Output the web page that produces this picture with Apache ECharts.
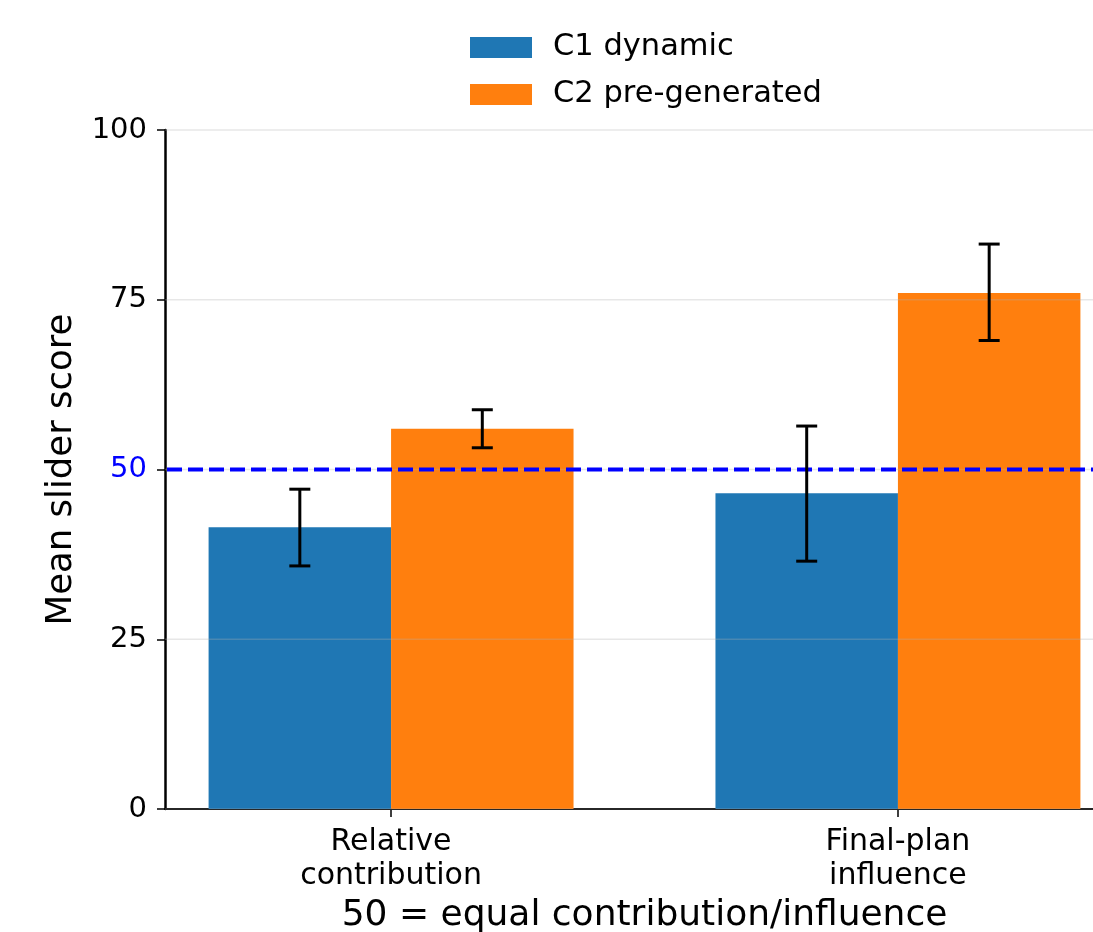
<!DOCTYPE html>
<html>
<head>
<meta charset="utf-8">
<script src="https://cdn.jsdelivr.net/npm/echarts@6/dist/echarts.min.js"></script>
<style>
html,body{margin:0;padding:0;background:#fff;}
#chart{width:1093px;height:932px;}
</style>
</head>
<body>
<div id="chart"></div>
<script>
// ---- data ----
const categories = ['Relative\ncontribution', 'Final-plan\ninfluence'];
const seriesNames = ['C1 dynamic', 'C2 pre-generated'];
const c1Means = [41.5, 46.5];
const c1Lower = [35.8, 36.5];
const c1Upper = [47.1, 56.4];
const c2Means = [56.0, 76.0];
const c2Lower = [53.2, 69.0];
const c2Upper = [58.8, 83.2];
const yTicks = [0, 25, 50, 75, 100];
const referenceValue = 50;
const xTitle = '50 = equal contribution/influence';
const yTitle = 'Mean slider score';

// ---- layout / style ----
const FONT = 'DejaVu Sans';
const BAR_W = 0.36;
const X_MIN = -0.446, X_MAX = 1.446;
const COLORS = ['#1f77b4', '#ff7f0e'];

const chart = echarts.init(document.getElementById('chart'), null, {renderer: 'canvas'});

function barSeries(name, means, color, offset) {
  return {
    name: name,
    type: 'custom',
    z: 2,
    itemStyle: {color: color},
    data: means.map((v, i) => [i, v]),
    encode: {x: 0, y: 1},
    renderItem: function (params, api) {
      const x = api.value(0) + offset;
      const v = api.value(1);
      const p1 = api.coord([x - BAR_W / 2, v]);
      const p2 = api.coord([x + BAR_W / 2, 0]);
      return {
        type: 'rect',
        shape: {x: p1[0], y: p1[1], width: p2[0] - p1[0], height: p2[1] - p1[1]},
        style: {fill: color}
      };
    }
  };
}

function errSeries(lower, upper, offset) {
  return {
    type: 'custom',
    z: 6,
    silent: true,
    data: lower.map((lo, i) => [i, lo, upper[i]]),
    encode: {x: 0, y: [1, 2]},
    renderItem: function (params, api) {
      const x = api.value(0) + offset;
      const pLo = api.coord([x, api.value(1)]);
      const pHi = api.coord([x, api.value(2)]);
      const cap = 10.5;
      const st = {stroke: '#000', lineWidth: 3};
      return {
        type: 'group',
        children: [
          {type: 'line', shape: {x1: pLo[0], y1: pLo[1], x2: pHi[0], y2: pHi[1]}, style: st},
          {type: 'line', shape: {x1: pLo[0] - cap, y1: pLo[1], x2: pLo[0] + cap, y2: pLo[1]}, style: st},
          {type: 'line', shape: {x1: pHi[0] - cap, y1: pHi[1], x2: pHi[0] + cap, y2: pHi[1]}, style: st}
        ]
      };
    }
  };
}

const option = {
  animation: false,
  backgroundColor: '#fff',
  textStyle: {fontFamily: FONT},
  legend: {
    orient: 'vertical',
    left: 465,
    top: 27,
    itemWidth: 62,
    itemHeight: 21,
    itemGap: 16,
    selectedMode: false,
    data: seriesNames.map(n => ({name: n, icon: 'rect'})),
    textStyle: {fontFamily: FONT, fontSize: 30.5, color: '#000', lineHeight: 29, padding: [0, 0, 0, 16]}
  },
  grid: {left: 165, top: 130, width: 959, height: 679, containLabel: false, outerBoundsMode: 'none'},
  xAxis: {
    type: 'value',
    min: X_MIN,
    max: X_MAX,
    name: xTitle,
    nameLocation: 'middle',
    nameGap: 86,
    nameTextStyle: {fontFamily: FONT, fontSize: 36, color: '#000'},
    axisLine: {show: true, onZero: false, lineStyle: {color: '#000', width: 2}},
    axisTick: {show: true, customValues: [0, 1], length: 8, lineStyle: {color: '#000', width: 1.5}},
    axisLabel: {
      show: true,
      customValues: [0, 1],
      formatter: v => categories[Math.round(v)],
      fontFamily: FONT, fontSize: 30, lineHeight: 34, color: '#000', margin: 16
    },
    splitLine: {show: false}
  },
  yAxis: {
    type: 'value',
    min: 0,
    max: 100,
    interval: 25,
    name: yTitle,
    nameLocation: 'middle',
    nameGap: 85,
    nameTextStyle: {fontFamily: FONT, fontSize: 35.5, color: '#000'},
    axisLine: {show: true, onZero: false, lineStyle: {color: '#000', width: 2.5}},
    axisTick: {show: true, length: 8, lineStyle: {color: '#000', width: 1.5}},
    axisLabel: {
      fontFamily: FONT, fontSize: 29, margin: 18,
      color: v => (Number(v) === referenceValue ? '#0000ff' : '#000')
    },
    splitLine: {show: false}
  },
  series: [
    barSeries(seriesNames[0], c1Means, COLORS[0], -BAR_W / 2),
    barSeries(seriesNames[1], c2Means, COLORS[1], BAR_W / 2),
    {
      type: 'custom',
      z: 3,
      silent: true,
      data: yTicks.map(v => [v]),
      encode: {y: 0},
      renderItem: function (params, api) {
        const y = api.value(0);
        const a = api.coord([X_MIN, y]);
        const b = api.coord([X_MAX, y]);
        return {type: 'line', shape: {x1: a[0], y1: a[1], x2: b[0], y2: b[1]},
                style: {stroke: 'rgba(176,176,176,0.3)', lineWidth: 1.5}};
      }
    },
    {
      type: 'custom',
      z: 4,
      silent: true,
      data: [[referenceValue]],
      encode: {y: 0},
      renderItem: function (params, api) {
        const y = api.value(0);
        const a = api.coord([X_MIN, y]);
        const b = api.coord([X_MAX, y]);
        return {type: 'line', shape: {x1: a[0] + 2, y1: a[1], x2: b[0], y2: b[1]},
                style: {stroke: '#0000ff', lineWidth: 4, lineDash: [15, 6]}};
      }
    },
    errSeries(c1Lower, c1Upper, -BAR_W / 2),
    errSeries(c2Lower, c2Upper, BAR_W / 2)
  ]
};

chart.setOption(option);
</script>
</body>
</html>
